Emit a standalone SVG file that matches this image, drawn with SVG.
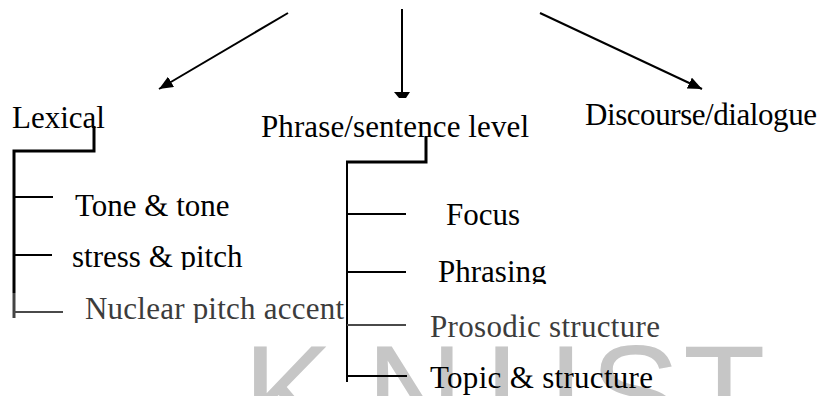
<svg xmlns="http://www.w3.org/2000/svg" width="820" height="396" viewBox="0 0 820 396">
  <style>
    .lbl { font-family: "Liberation Serif", "Times New Roman", serif; font-size: 31px; fill: #000; }
    .dim { fill: #3c3c3c; }
    .wm { font-family: "Liberation Sans", Arial, sans-serif; font-size: 135px; fill: #c6c6c6; }
    .arrow { stroke: #000; stroke-width: 2; fill: none; }
    .brk { stroke: #000; stroke-width: 3; fill: none; }
    .br { stroke: #000; stroke-width: 2; fill: none; }
    .brg { stroke: #4a4a4a; stroke-width: 2; fill: none; }
  </style>
  <defs>
    <marker id="ah" viewBox="0 0 14 12" refX="14" refY="6" markerWidth="14" markerHeight="12" markerUnits="userSpaceOnUse" orient="auto">
      <path d="M0,0 L14,6 L0,12 z" fill="#000"/>
    </marker>
    <clipPath id="clipStress"><rect x="0" y="0" width="340" height="270"/></clipPath>
    <clipPath id="clipPhrasing"><rect x="400" y="0" width="200" height="284"/></clipPath>
    <clipPath id="clipNuclear"><rect x="0" y="0" width="346" height="323"/></clipPath>
  </defs>
  <rect width="820" height="396" fill="#fff"/>

  <!-- watermark -->
  <g id="watermark">
    <text class="wm" x="243 366 485 590 683" y="440">KNUST</text>
  </g>

  <!-- connectors -->
  <g id="connectors">
    <line class="arrow" x1="288" y1="13" x2="159" y2="89" marker-end="url(#ah)"/>
    <line class="arrow" x1="402" y1="9" x2="402" y2="93"/>
    <polygon points="394,92 410,92 406,98 399,98" fill="#000"/>
    <line class="arrow" x1="540" y1="13" x2="702" y2="89" marker-end="url(#ah)"/>

    <!-- Lexical bracket -->
    <path class="brk" d="M94,126 V151 H14 V293"/>
    <line x1="14" y1="293" x2="14" y2="318" stroke="#444" stroke-width="3"/>
    <line class="br" x1="14" y1="197" x2="53" y2="197"/>
    <line class="br" x1="14" y1="255" x2="52" y2="255"/>
    <line class="brg" x1="14" y1="312" x2="63" y2="312"/>

    <!-- Phrase bracket -->
    <path class="brk" d="M426,136 V162 H346"/>
    <line class="br" x1="347" y1="162" x2="347" y2="382"/>
    <line class="br" x1="347" y1="214" x2="406" y2="214"/>
    <line class="br" x1="347" y1="272" x2="406" y2="272"/>
    <line class="brg" x1="347" y1="325" x2="406" y2="325"/>
    <line class="br" x1="347" y1="376" x2="407" y2="376"/>
  </g>

  <g id="lexical">
    <text class="lbl" x="12" y="128">Lexical</text>
  </g>
  <g id="phrase">
    <text class="lbl" x="261" y="137" textLength="268">Phrase/sentence level</text>
  </g>
  <g id="discourse">
    <text class="lbl" x="585" y="125" textLength="232">Discourse/dialogue</text>
  </g>

  <g id="tone">
    <text class="lbl" x="75" y="216">Tone &amp; tone</text>
  </g>
  <g id="stress">
    <text class="lbl" x="72" y="267" clip-path="url(#clipStress)">stress &amp; pitch</text>
  </g>
  <g id="nuclear">
    <text class="lbl dim" x="85" y="319" textLength="259" clip-path="url(#clipNuclear)">Nuclear pitch accent</text>
  </g>

  <g id="focus">
    <text class="lbl" x="446" y="225">Focus</text>
  </g>
  <g id="phrasing">
    <text class="lbl" x="438" y="282" clip-path="url(#clipPhrasing)">Phrasing</text>
  </g>
  <g id="prosodic">
    <text class="lbl dim" x="430" y="337" textLength="230">Prosodic structure</text>
  </g>
  <g id="topic">
    <text class="lbl" x="430" y="388" fill="#1a1a1a" textLength="223">Topic &amp; structure</text>
  </g>
</svg>
